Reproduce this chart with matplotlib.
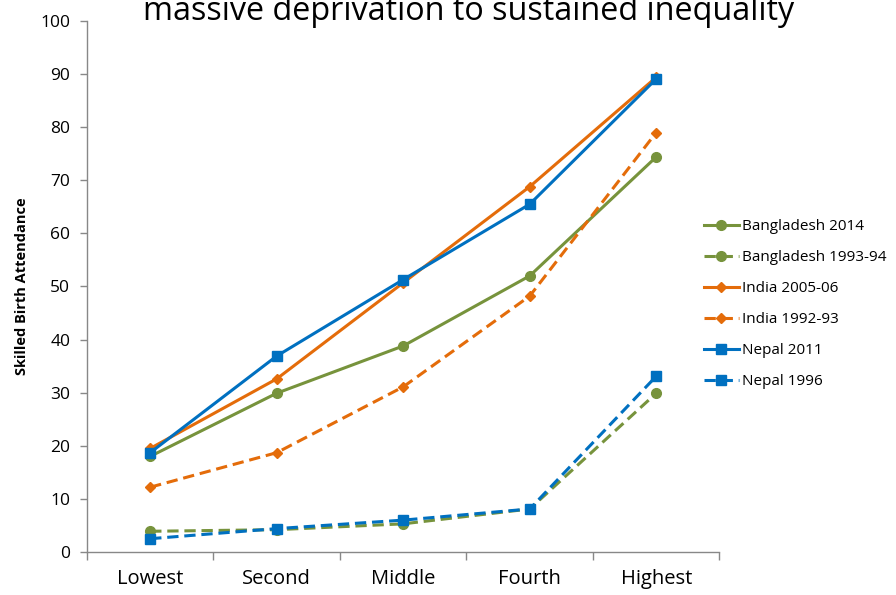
import matplotlib.pyplot as plt
import numpy as np

plt.rcParams['font.family'] = ['Open Sans', 'DejaVu Sans']

quintiles = ["Lowest", "Second", "Middle", "Fourth", "Highest"]

bangladesh_2014 = [18.0, 29.9, 38.8, 52.0, 74.4]
bangladesh_1993 = [3.9, 4.2, 5.3, 8.1, 29.9]
india_2005 = [19.5, 32.6, 50.7, 68.8, 89.4]
india_1992 = [12.2, 18.7, 31.1, 48.2, 79.0]
nepal_2011 = [18.7, 36.9, 51.3, 65.5, 89.1]
nepal_1996 = [2.5, 4.4, 6.0, 8.1, 33.1]

GREEN = "#77933C"
ORANGE = "#E46C0A"
BLUE = "#0070C0"

series = [
    ("Bangladesh 2014", bangladesh_2014, GREEN, "o", "-", 7),
    ("Bangladesh 1993-94", bangladesh_1993, GREEN, "o", "--", 7),
    ("India 2005-06", india_2005, ORANGE, "D", "-", 5.5),
    ("India 1992-93", india_1992, ORANGE, "D", "--", 5.5),
    ("Nepal 2011", nepal_2011, BLUE, "s", "-", 7),
    ("Nepal 1996", nepal_1996, BLUE, "s", "--", 7),
]

fig = plt.figure(figsize=(8.96, 5.95), dpi=100)
ax = fig.add_axes([0.097, 0.0723, 0.706, 0.8924])

x = np.arange(len(quintiles))
for label, vals, color, marker, ls, ms in series:
    ax.plot(x, vals, color=color, marker=marker, linestyle=ls, linewidth=2.2,
            markersize=ms, label=label, dashes=(3.7, 1.9) if ls == "--" else (None, None))

ax.set_xlim(-0.5, len(quintiles) - 0.5)
ax.set_ylim(0, 100)
ax.set_yticks(np.arange(0, 101, 10))
ax.set_xticks(x)
ax.set_xticklabels(quintiles, fontsize=14.5)
ax.set_xticks(np.arange(-0.5, len(quintiles), 1.0), minor=True)
ax.tick_params(axis="x", which="major", length=0, pad=12)
ax.tick_params(axis="x", which="minor", length=6, color="#888888", width=1)
ax.tick_params(axis="y", length=5, color="#888888", width=1, labelsize=12.5, pad=7)

for side in ("top", "right"):
    ax.spines[side].set_visible(False)
for side in ("left", "bottom"):
    ax.spines[side].set_color("#888888")
    ax.spines[side].set_linewidth(1)

ax.set_ylabel("Skilled Birth Attendance", fontsize=10.5, fontweight="bold", labelpad=8)

fig.legend(loc="center left", bbox_to_anchor=(0.77, 0.489), frameon=False,
           fontsize=11, handlelength=2.3, handletextpad=0.2, labelspacing=1.05)

# headline sits partly above the figure edge
fig.text(0.523, 1 - 20 / 595, "massive deprivation to sustained inequality",
         ha="center", va="baseline", fontsize=23.3)

fig.savefig("out.png", dpi=100)
